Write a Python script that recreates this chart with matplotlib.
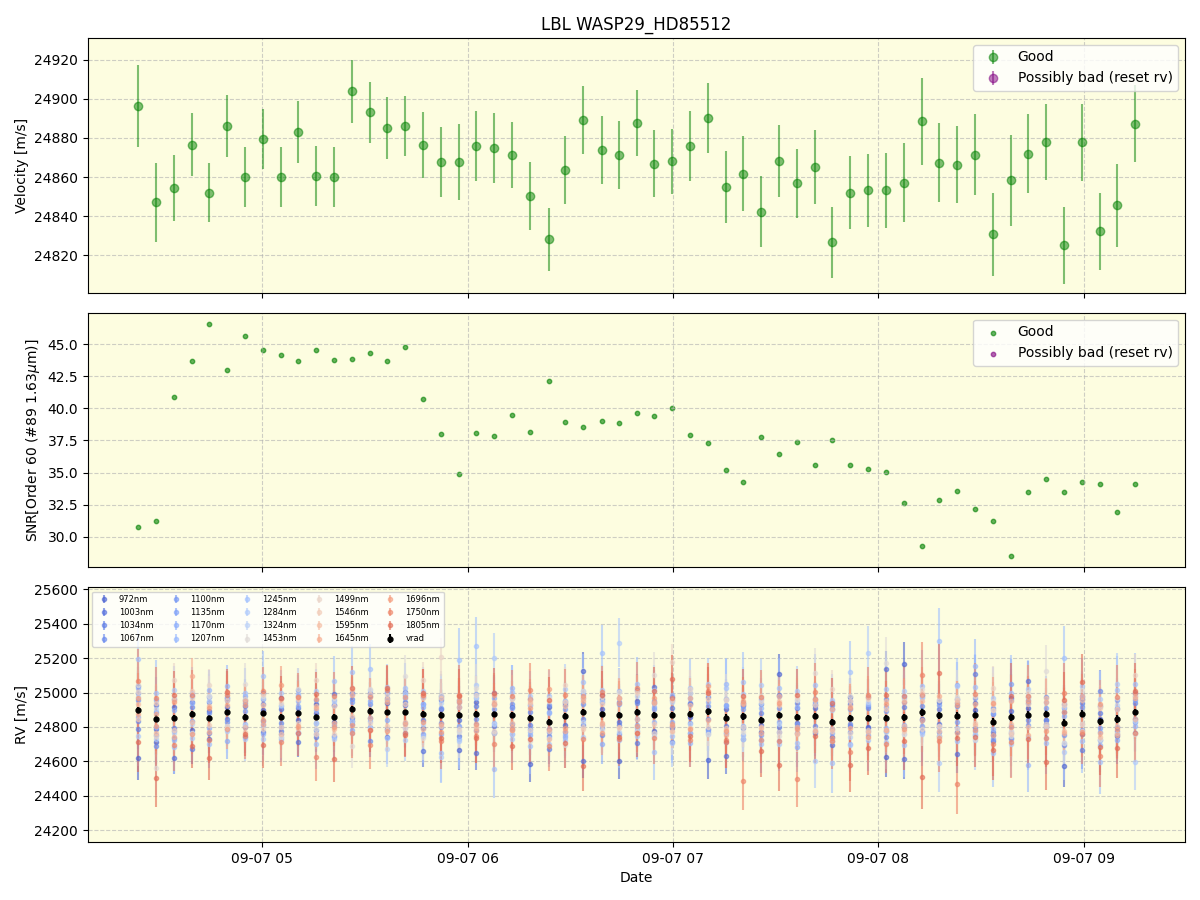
"""
LBL radial-velocity summary for WASP29_HD85512 (one night, 57 exposures).
Top: LBL velocity, middle: SNR in order 60, bottom: per-band RVs + vrad.
"""

import numpy as np
import pandas as pd
import matplotlib
matplotlib.use("Agg")
import matplotlib.pyplot as plt
import matplotlib.dates as mdates

# ── Data ──────────────────────────────────────────────────────────────────────
NIGHT = "2023-09-07"

# observation times, decimal hours (UT)
OBS_HOURS = [4.394, 4.481, 4.568, 4.657, 4.739, 4.828, 4.915, 5.003, 5.091, 5.174,
             5.261, 5.348, 5.437, 5.524, 5.608, 5.695, 5.782, 5.871, 5.958, 6.042,
             6.129, 6.218, 6.305, 6.394, 6.476, 6.564, 6.652, 6.739, 6.826, 6.906,
             6.993, 7.082, 7.169, 7.256, 7.340, 7.427, 7.516, 7.603, 7.691, 7.774,
             7.862, 7.949, 8.038, 8.126, 8.213, 8.297, 8.383, 8.470, 8.557, 8.646,
             8.728, 8.817, 8.904, 8.991, 9.080, 9.162, 9.250]

VELOCITY = [24896.2, 24847.0, 24854.2, 24876.6, 24852.1, 24886.0, 24860.0, 24879.4,
            24860.0, 24882.9, 24860.5, 24860.0, 24903.8, 24893.1, 24885.0, 24886.0,
            24876.3, 24867.6, 24867.6, 24875.8, 24874.8, 24871.2, 24850.3, 24828.2,
            24863.5, 24889.0, 24873.7, 24871.2, 24887.5, 24866.9, 24868.0, 24875.8,
            24890.1, 24854.9, 24861.8, 24842.4, 24868.1, 24856.7, 24865.1, 24826.6,
            24852.1, 24853.2, 24853.2, 24857.2, 24888.4, 24867.4, 24866.4, 24871.5,
            24830.7, 24858.3, 24872.0, 24877.8, 24825.1, 24877.7, 24832.2, 24845.5,
            24887.3]

VELOCITY_ERR = [20.8, 20.3, 16.8, 16.0, 15.0, 15.7, 15.2, 15.5, 15.5, 15.7,
                15.5, 15.5, 16.0, 15.5, 16.0, 15.2, 16.8, 18.0, 19.3, 17.8,
                17.8, 17.0, 17.5, 16.0, 17.3, 17.3, 17.3, 17.3, 16.8, 17.2,
                16.7, 17.8, 18.0, 18.5, 19.0, 18.0, 18.5, 17.8, 18.8, 18.0,
                18.8, 18.8, 19.0, 20.3, 22.1, 20.1, 19.8, 20.6, 21.1, 23.1,
                20.4, 19.3, 19.6, 19.6, 19.8, 21.1, 19.5]

SNR = [30.78, 31.24, 40.88, 43.68, 46.55, 42.98, 45.62, 44.53, 44.15, 43.68,
       44.53, 43.76, 43.83, 44.30, 43.68, 44.77, 40.73, 38.01, 34.90, 38.08,
       37.85, 39.48, 38.16, 42.12, 38.94, 38.55, 39.02, 38.86, 39.64, 39.40,
       40.03, 37.93, 37.31, 35.21, 34.27, 37.77, 36.45, 37.38, 35.60, 37.54,
       35.60, 35.28, 35.05, 32.64, 29.30, 32.88, 33.58, 32.18, 31.24, 28.52,
       33.50, 34.51, 33.50, 34.27, 34.12, 31.94, 34.12]

# per-band RV, offset from vrad [m/s]
rv_972 = [-279, -137, 60, -95, 40, 85, -60, 20, 110, -45, 75, -30, 95, -40, 55, 120, -80, 35, -199,
          70, -110, 45, -266, 90, -50, 239, 30, -271, 65, -90, 105, -20, -285, 50, 80, -70, 242, -35,
          60, -85, 120, -55, -230, 311, -40, 75, -95, 25, -75, 110, 40, -60, -255, 85, 15, -100, -40]
rv_1003 = [140, -60, -237, 70, -120, 30, 95, -110, 45, -173, 20, 130, -70, 85, -95, 40, -217, 110, -30,
           -230, 60, -85, 115, -40, 75, -289, 90, -45, 130, 168, -75, 55, -100, -225, 65, -30, 120, -90,
           45, -130, 80, -60, 286, -246, 95, -50, -224, 70, -110, 35, 198, -80, 60, -120, 90, -45, 110]
rv_1034 = [-110, 80, -60, -206, 95, -40, 60, 120, -85, 30, -120, 70, -50, 105, -142, 60, -35, 90, -120,
           45, -70, 100, -40, -157, 65, -80, 110, -60, -183, 75, 40, -110, 85, -50, -130, 90, -70, 55,
           -100, 80, -45, 120, -75, 60, -110, 35, 95, 235, -60, -120, 70, -40, 110, -213, 50, -85, -120]
rv_1067 = [-60, -160, 110, 40, -90, 70, -120, 55, -40, 95, -80, -110, 60, -176, 85, -65, 100, -45, 50,
           -95, 120, -55, 35, -80, 90, -40, -120, 75, 50, -105, -158, 65, -45, 110, -70, 40, -95, 80,
           -60, 100, -35, 55, -110, 90, -50, -120, 70, -80, 45, -95, 105, -40, -130, 60, 178, -70, 50]
rv_1100 = [60, -95, -120, 105, 30, -60, 80, -45, -100, 131, -35, 70, -85, 40, 110, -120, 55, -70, 90,
           -30, -105, 65, -60, 100, -95, 45, 70, -110, -40, 85, -65, 120, 30, -90, 60, -120, 40, -55,
           95, -40, -80, 70, 110, -60, 35, -95, 55, -120, 80, -50, -30, 95, -70, 40, -110, 65, -60]
rv_1135 = [100, 40, -80, -40, 120, -100, 30, 85, -60, -120, 95, -50, 40, -95, 70, 100, -120, 45, -65,
           115, 30, -110, 80, -55, 40, 105, -80, 60, -110, 35, 90, -55, -120, 75, 40, -90, 110, -40,
           80, -110, 55, -75, 40, 120, -85, 60, -40, 95, -100, 194, -60, 30, 85, -95, -40, 110, 70]
rv_1170 = [-40, 110, 45, -110, -60, -169, 120, -70, 60, 40, -100, 95, -120, 60, -45, 85, 40, -110, 75,
           -60, 95, 40, -100, 60, -120, 80, -174, 100, -75, 50, -40, 90, -110, 65, -55, 120, -40, -172,
           70, -60, 100, -100, 60, -45, 85, -70, 180, -95, 50, -130, 85, -70, 40, 105, -60, -120, 90]
rv_1207 = [130, -50, -130, 60, 162, 151, -45, -120, -133, 70, 40, -120, 85, -60, 120, -90, 60, 100, -140,
           90, -50, 158, -80, 55, -110, 120, -60, 140, -95, -40, 120, -170, 55, 197, -110, 70, -150, 60,
           -90, 120, -150, 80, -60, 110, -120, 90, -70, 282, -40, 100, -292, 70, -120, 95, -140, 60, -80]
rv_1245 = [301, 150, -170, 120, -150, 90, 140, 218, -120, 110, -160, 206, 214, 246, -150, 140, -130, -222,
           324, 397, -322, 130, -160, 150, -140, 170, 358, -150, 160, -215, -120, 150, -130, 170, 198,
           -140, 160, -150, 180, -239, 270, -130, 170, -160, 150, 435, -150, 160, -180, 140, -130, -170,
           378, -160, -238, 170, 160]
rv_1284 = [-150, -120, 160, -140, 130, -110, -133, -150, 140, -120, 150, -130, -140, 120, 150, -160, 130,
           -240, -150, 170, 324, -140, 130, -130, 160, -150, 140, 419, -140, 150, -160, -110, 160, -140,
           130, 204, -170, 150, -266, 130, -160, 379, -140, 150, -130, -279, 170, -150, 140, -160, 150,
           -140, -170, 160, 130, 207, -293]
rv_1324 = [80, 60, -90, -60, 100, -80, -50, 90, 70, -110, -40, 85, -70, -100, -214, 110, -60, 70, -90,
           100, -60, -110, 75, -90, 90, -60, 80, -100, 90, -120, 75, -60, 100, -90, -130, 95, -50, 100,
           -90, 70, -110, 90, -80, -100, 80, -60, 95, -110, 70, -80, 110, -70, 90, -60, -110, 80, -50]
rv_1453 = [150, -288, 120, -110, 130, -90, 192, 100, -120, 140, -70, 110, -216, 130, -100, 213, -140, 120,
           -100, 150, -110, 100, -130, 140, -170, 120, -90, 130, -110, 233, -100, 120, -130, 110, -90,
           140, -120, 100, 250, -110, 130, -120, 321, -100, 130, -120, 110, -140, 120, -110, 130, 250,
           -120, 140, -100, 120, -130]
rv_1499 = [110, -100, 218, 90, 194, -80, 100, -90, 80, -60, 215, -100, 120, -70, 100, -90, 199, 339, -80,
           110, -100, 90, -70, 120, 178, -90, 100, -80, 110, -100, 312, 145, -90, 100, -60, 110, -100,
           120, -80, 196, -90, 110, -70, 100, -100, 90, -80, 110, 198, -90, 100, -60, 120, -100, 90,
           -80, 216]
rv_1546 = [-50, 90, -70, 130, -40, 70, -90, 110, -60, 80, -100, 60, -40, 100, -80, 50, 90, -60, 110,
           -70, 50, -90, 100, -50, 80, -100, 60, -70, 120, -50, 90, -80, 70, -60, 110, -40, 80, -90, 60,
           -50, 100, -70, 50, -80, 110, -60, 90, -50, 70, -100, 60, -80, 100, -60, 80, -40, 90]
rv_1595 = [40, -80, 100, -50, 70, 120, -60, 50, -100, 90, 60, -70, 110, -40, 80, -60, -90, 100, 50,
           -80, 70, -50, 90, -100, 60, 80, -60, 100, -40, 70, -90, 50, 110, -70, 80, -50, 60, -100, 90,
           -40, 70, -80, 100, -50, 60, -90, 80, -60, 100, -40, -70, 90, -50, 80, -90, 60, -40]
rv_1645 = [-20, 30, -110, 220, -80, 40, 90, -60, 100, -90, 50, -40, 80, -110, 60, -70, 110, -50, 90,
           -100, 60, -70, 110, -40, -90, 60, -50, 100, -120, 80, -60, 90, -50, -100, 70, -80, 110, -60,
           -90, 80, -60, 120, -70, 90, -50, 110, -100, 60, -80, 90, -120, 70, -60, 100, -70, -90, 80]
rv_1696 = [70, -40, 90, -120, 60, -100, 70, -40, 183, -80, 100, -60, -90, 80, -110, 90, -50, -100, 80,
           -60, 110, -90, 60, 195, -70, 90, -110, 70, -80, 100, -50, -90, 151, -80, 90, -120, 70, -70,
           100, -90, 60, -110, 80, -70, 100, -130, 60, -90, 110, -60, 80, -100, 60, -110, 100, -60, 110]
rv_1750 = [172, 122, -162, 110, -130, 100, -110, 130, -150, 90, -235, 120, -140, -201, 130, -120, 110,
           -150, 120, -130, -177, 110, 164, -140, 120, -160, 130, -144, 142, -130, 100, -150, 120, -130,
           -379, 130, -150, -362, 140, -110, -200, 130, -150, 120, 211, -150, -400, 120, -130, -148, 110,
           -140, 171, -120, -204, 130, -120]
rv_1805 = [-184, -346, 130, -185, -235, 120, -100, -187, 110, -120, 130, -249, 120, -110, 140, -134, 120,
           -130, 110, -140, 120, -181, -120, 130, -159, -317, 110, -130, -120, 140, 209, -130, 110, -140,
           120, -183, -290, 130, -120, 110, -274, -176, 130, -140, -382, 249, -130, -131, -166, 120, -140,
           -284, 130, 184, -150, -170, 120]

BAND_WAVE = [972, 1003, 1034, 1067, 1100, 1135, 1170, 1207, 1245, 1284, 1324, 1453,
             1499, 1546, 1595, 1645, 1696, 1750, 1805]
# typical per-band error at median SNR [m/s]
BAND_ERR = [110, 100, 100, 110, 100, 110, 120, 140, 170, 150, 120, 140, 110, 100,
            110, 120, 130, 160, 150]

BAND_RV = [rv_972, rv_1003, rv_1034, rv_1067, rv_1100, rv_1135, rv_1170, rv_1207,
           rv_1245, rv_1284, rv_1324, rv_1453, rv_1499, rv_1546, rv_1595, rv_1645,
           rv_1696, rv_1750, rv_1805]

# ── Figure ────────────────────────────────────────────────────────────────────
BG = "#fdfde0"

times = pd.Timestamp(NIGHT) + pd.to_timedelta(OBS_HOURS, unit="h")
vel = np.array(VELOCITY)
vel_err = np.array(VELOCITY_ERR)
err_scale = vel_err / vel_err.mean()

fig, (ax1, ax2, ax3) = plt.subplots(3, 1, figsize=(12, 9), dpi=100, sharex=True)
fig.subplots_adjust(left=0.0733, right=0.9875, top=0.9578, bottom=0.0644, hspace=0.079)

# top: velocity
ax1.errorbar(times, vel, yerr=vel_err, fmt="o", color="green", alpha=0.5, ms=6,
             label="Good")
ax1.errorbar([], [], yerr=[], fmt="o", color="purple", alpha=0.5, ms=6,
             label="Possibly bad (reset rv)")
ax1.set_ylabel("Velocity [m/s]")
ax1.set_ylim(24801, 24931)
ax1.set_title("LBL WASP29_HD85512")
ax1.legend(loc="upper right")

# middle: SNR
ax2.scatter(times, SNR, s=10, color="green", alpha=0.6, label="Good")
ax2.scatter([], [], s=10, color="purple", alpha=0.6, label="Possibly bad (reset rv)")
ax2.set_ylabel(r"SNR[Order 60 (#89 1.63$\mu$m)]")
ax2.legend(loc="upper right")

# bottom: per-band RVs, coloured by wavelength
wave = np.array(BAND_WAVE)
wnorm = (wave - wave.min()) / (wave.max() - wave.min())
for wl, offs, err, w in zip(BAND_WAVE, BAND_RV, BAND_ERR, wnorm):
    ax3.errorbar(times, vel + np.array(offs), yerr=err * err_scale, fmt="o",
                 color=plt.cm.coolwarm(0.05 + 0.8 * w), alpha=0.6, ms=3,
                 label=f"{wl}nm")
ax3.errorbar(times, vel, yerr=vel_err, fmt="o", color="black", ms=3.5, label="vrad")
ax3.set_ylabel("RV [m/s]")
ax3.set_ylim(24130, 25612)
ax3.set_xlabel("Date")
ax3.legend(loc="upper left", ncol=5, fontsize=6, columnspacing=1.64)

for ax in (ax1, ax2, ax3):
    ax.set_facecolor(BG)
    ax.grid(True, linestyle="--", alpha=0.6)

ax3.xaxis.set_major_locator(mdates.HourLocator())
ax3.xaxis.set_major_formatter(mdates.DateFormatter("%m-%d %H"))

plt.savefig("out.png", dpi=100)
